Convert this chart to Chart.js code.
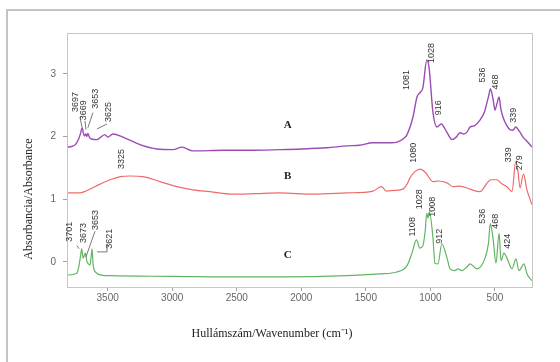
<!DOCTYPE html>
<html>
<head>
<meta charset="utf-8">
<script src="https://cdn.jsdelivr.net/npm/chart.js@4"></script>
<style>
  html, body { margin: 0; padding: 0; background: #fff; }
  canvas { display: block; }
</style>
</head>
<body>
<canvas id="spectra" width="560" height="362"></canvas>
<script>
// --- axes ---
const WN_TICKS = [3500, 3000, 2500, 2000, 1500, 1000, 500];
const ABS_TICKS = [0, 1, 2, 3];

// --- spectrum A ---
const A_WN = [3815, 3780, 3750, 3725, 3710, 3697, 3688, 3680, 3669, 3661, 3653, 3640, 3625, 3583, 3521, 3498, 3459, 3381, 3250, 3118, 2994, 2924, 2839, 2600, 2400, 2165, 2000, 1800, 1646, 1550, 1445, 1300, 1259, 1200, 1181, 1135, 1104, 1081, 1058, 1028, 1011, 980, 949, 916, 871, 833, 800, 771, 740, 717, 693, 660, 616, 580, 562, 545, 536, 515, 500, 485, 468, 455, 438, 410, 384, 360, 339, 310, 283, 250, 213];
const A_ABS = [1.83, 1.84, 1.87, 1.96, 2.05, 2.14, 2.05, 2.01, 2.04, 2.00, 2.05, 1.98, 1.96, 1.95, 2.03, 1.99, 2.04, 1.99, 1.87, 1.80, 1.79, 1.83, 1.77, 1.78, 1.78, 1.79, 1.80, 1.82, 1.85, 1.86, 1.90, 1.90, 1.91, 1.98, 2.03, 2.31, 2.63, 2.70, 2.78, 3.22, 3.11, 2.38, 2.15, 2.20, 2.06, 1.95, 1.99, 2.06, 2.04, 2.07, 2.15, 2.17, 2.26, 2.40, 2.54, 2.68, 2.76, 2.60, 2.42, 2.52, 2.63, 2.45, 2.31, 2.18, 2.11, 2.10, 2.15, 2.08, 1.99, 1.92, 1.83];

// --- spectrum B ---
const B_WN = [3815, 3715, 3680, 3560, 3482, 3400, 3325, 3227, 3095, 2963, 2839, 2708, 2530, 2350, 2166, 1910, 1647, 1445, 1380, 1340, 1280, 1213, 1181, 1158, 1120, 1080, 1040, 980, 941, 871, 825, 771, 694, 616, 560, 530, 485, 450, 407, 368, 339, 322, 306, 279, 252, 213];
const B_ABS = [1.10, 1.10, 1.12, 1.24, 1.31, 1.36, 1.37, 1.36, 1.28, 1.20, 1.15, 1.12, 1.08, 1.09, 1.10, 1.08, 1.10, 1.13, 1.20, 1.13, 1.14, 1.16, 1.24, 1.34, 1.44, 1.48, 1.43, 1.28, 1.29, 1.26, 1.20, 1.21, 1.16, 1.12, 1.26, 1.31, 1.31, 1.25, 1.20, 1.12, 1.60, 1.45, 1.18, 1.40, 1.15, 0.91];

// --- spectrum C ---
const C_WN = [3815, 3738, 3722, 3710, 3701, 3690, 3673, 3660, 3650, 3637, 3628, 3621, 3612, 3590, 3550, 3482, 3000, 2500, 2165, 1646, 1391, 1259, 1181, 1143, 1108, 1081, 1058, 1040, 1028, 1019, 1008, 980, 965, 941, 912, 871, 848, 810, 787, 756, 717, 693, 639, 577, 550, 536, 515, 492, 468, 453, 430, 407, 368, 337, 314, 275, 252, 213];
const C_ABS = [-0.21, -0.18, -0.06, 0.10, 0.21, 0.06, 0.14, 0.00, -0.03, -0.05, 0.08, 0.21, -0.06, -0.17, -0.21, -0.22, -0.23, -0.24, -0.24, -0.22, -0.19, -0.16, -0.06, 0.14, 0.35, 0.22, 0.26, 0.50, 0.78, 0.70, 0.80, 0.38, -0.02, -0.03, 0.29, 0.06, -0.11, -0.14, -0.11, -0.14, -0.08, -0.03, -0.11, 0.06, 0.30, 0.61, 0.38, -0.02, 0.46, 0.02, 0.14, 0.06, -0.11, 0.05, -0.14, -0.03, -0.19, -0.30];

// --- peak labels (text, anchor wavenumber, anchor absorbance) ---
const PEAK_TEXT = ['3697', '3669', '3653', '3625', '1081', '1028', '916', '536', '468', '339',
                   '3325', '1080', '339', '279',
                   '3701', '3673', '3653', '3621', '1108', '1028', '1008', '912', '536', '468', '424'];
const PEAK_WN = [3746, 3684, 3591, 3490, 1182, 988, 934, 593, 493, 353,
                 3389, 1127, 392, 307,
                 3792, 3684, 3591, 3482, 1135, 1081, 980, 926, 593, 493, 400];
const PEAK_ABS = [2.55, 2.42, 2.60, 2.39, 2.90, 3.33, 2.46, 2.98, 2.87, 2.34,
                  1.64, 1.74, 1.71, 1.58,
                  0.48, 0.46, 0.67, 0.37, 0.56, 1.00, 0.88, 0.41, 0.73, 0.65, 0.33];

// leader lines: [wn1, abs1, wn2, abs2]
const LEADERS = [
  [3715, 2.31, 3699, 2.15],
  [3676, 2.25, 3668, 2.11],
  [3614, 2.38, 3653, 2.14],
  [3505, 2.20, 3583, 2.12],
  [3738, 0.26, 3722, 0.21],
  [3598, 0.49, 3668, 0.08],
  [3583, 0.16, 3505, 0.16],
  [3505, 0.16, 3505, 0.29]
];

const CURVE_NAMES = ['A', 'B', 'C'];
const CURVE_NAME_WN = [2105, 2105, 2105];
const CURVE_NAME_ABS = [2.18, 1.37, 0.11];

function toPoints(xs, ys) {
  return xs.map((x, i) => ({ x: x, y: ys[i] }));
}

const decorPlugin = {
  id: 'decor',
  beforeDraw(chart) {
    const ctx = chart.ctx;
    ctx.save();
    ctx.fillStyle = '#fff';
    ctx.fillRect(0, 0, chart.width, chart.height);
    // outer frame (only top/left visible)
    ctx.strokeStyle = '#c4c4c4';
    ctx.lineWidth = 2;
    ctx.beginPath();
    ctx.moveTo(7, chart.height + 5);
    ctx.lineTo(7, 10);
    ctx.lineTo(chart.width + 5, 10);
    ctx.stroke();
    ctx.restore();
  },
  afterDraw(chart) {
    const ctx = chart.ctx;
    const xs = chart.scales.x, ys = chart.scales.y;
    const a = chart.chartArea;
    ctx.save();

    // plot box
    ctx.strokeStyle = '#c6c6c6';
    ctx.lineWidth = 1;
    ctx.strokeRect(a.left + 0.5, a.top + 0.5, a.right - a.left, a.bottom - a.top);

    // peak labels
    ctx.fillStyle = '#333';
    ctx.font = '9px "Liberation Sans", Arial, sans-serif';
    ctx.textAlign = 'center';
    ctx.textBaseline = 'middle';
    PEAK_TEXT.forEach((t, i) => {
      ctx.save();
      ctx.translate(xs.getPixelForValue(PEAK_WN[i]), ys.getPixelForValue(PEAK_ABS[i]));
      ctx.rotate(-Math.PI / 2);
      ctx.fillText(t, 0, 0);
      ctx.restore();
    });

    // leaders
    ctx.strokeStyle = '#555';
    ctx.lineWidth = 0.8;
    LEADERS.forEach(l => {
      ctx.beginPath();
      ctx.moveTo(xs.getPixelForValue(l[0]), ys.getPixelForValue(l[1]));
      ctx.lineTo(xs.getPixelForValue(l[2]), ys.getPixelForValue(l[3]));
      ctx.stroke();
    });

    // curve names
    ctx.fillStyle = '#222';
    ctx.font = 'bold 11px "Liberation Serif", "Times New Roman", serif';
    CURVE_NAMES.forEach((n, i) => {
      ctx.fillText(n, xs.getPixelForValue(CURVE_NAME_WN[i]), ys.getPixelForValue(CURVE_NAME_ABS[i]));
    });

    // axis titles
    ctx.fillStyle = '#222';
    ctx.font = '12px "Liberation Serif", "Times New Roman", serif';
    ctx.fillText('Hullámszám/Wavenumber (cm⁻¹)', 272, 334);
    ctx.save();
    ctx.translate(29, 199);
    ctx.rotate(-Math.PI / 2);
    ctx.fillText('Absorbancia/Absorbance', 0, 0);
    ctx.restore();

    ctx.restore();
  }
};

const tickFont = { family: '"Liberation Sans", Arial, sans-serif', size: 10 };

new Chart(document.getElementById('spectra'), {
  type: 'line',
  data: {
    datasets: [
      { label: 'A', data: toPoints(A_WN, A_ABS), borderColor: '#9b4db3', borderWidth: 1.4 },
      { label: 'B', data: toPoints(B_WN, B_ABS), borderColor: '#ee6b6b', borderWidth: 1.2 },
      { label: 'C', data: toPoints(C_WN, C_ABS), borderColor: '#62b462', borderWidth: 1.2 }
    ]
  },
  options: {
    responsive: false,
    animation: false,
    devicePixelRatio: 1,
    layout: { padding: { top: 33, right: 28, left: 0, bottom: 0 } },
    elements: {
      point: { radius: 0 },
      line: { cubicInterpolationMode: 'monotone', fill: false }
    },
    plugins: {
      legend: { display: false },
      tooltip: { enabled: false }
    },
    scales: {
      x: {
        type: 'linear',
        reverse: true,
        min: 213,
        max: 3815,
        afterFit: s => { s.height = 75; },
        afterBuildTicks: s => { s.ticks = WN_TICKS.map(v => ({ value: v })); },
        border: { display: false },
        grid: { display: true, drawOnChartArea: false, drawTicks: true, tickLength: 4, color: '#a0a0a0' },
        ticks: { color: '#666', font: tickFont, padding: 1, maxRotation: 0, callback: v => String(v) }
      },
      y: {
        min: -0.4,
        max: 3.65,
        afterFit: s => { s.width = 67; },
        afterBuildTicks: s => { s.ticks = ABS_TICKS.map(v => ({ value: v })); },
        border: { display: false },
        grid: { display: true, drawOnChartArea: false, drawTicks: true, tickLength: 4, color: '#a0a0a0' },
        ticks: { color: '#666', font: tickFont, padding: 7, callback: v => String(v) }
      }
    }
  },
  plugins: [decorPlugin]
});
</script>
</body>
</html>
